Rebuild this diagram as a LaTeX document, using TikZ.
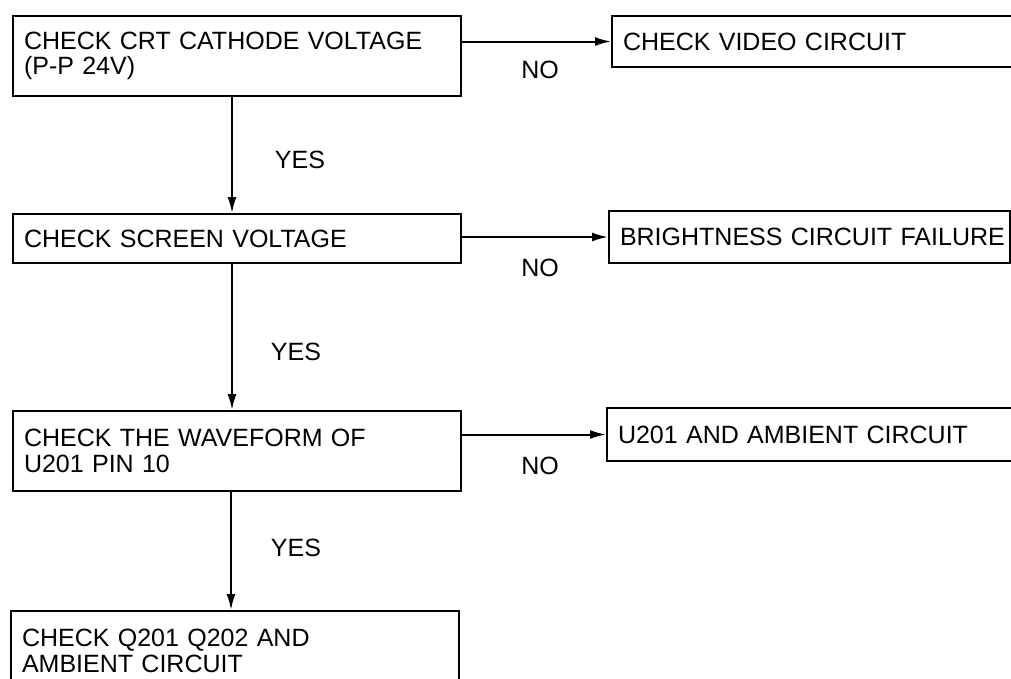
\documentclass[tikz,border=0pt]{standalone}
\usepackage{fontspec}
\setmainfont{Liberation Sans}
\usetikzlibrary{arrows.meta}
\begin{document}
\begin{tikzpicture}[x=1pt,y=-1pt,
  every node/.style={font=\fontsize{25}{25.5}\selectfont},
  stepbox/.style={draw,line width=2pt,anchor=north west,align=left,inner xsep=11pt,inner ysep=0pt},
  leftbox/.style={stepbox,minimum width=448pt,text width=426pt},
  flow/.style={line width=2pt,-{Latex[length=16pt,width=9pt]}},
  lbl/.style={inner sep=0pt}]
\useasboundingbox (0,0) rectangle (1011,678);
\clip (0,0) rectangle (1011,678);
\fill[white] (0,0) rectangle (1011,678);
\node[leftbox,minimum height=80pt] (b1) at (12,15) {CHECK CRT CATHODE VOLTAGE\\(P-P 24V)};
\node[stepbox,minimum width=420pt,minimum height=51pt,text width=398pt] (r1) at (611,15) {\mbox{CHECK VIDEO CIRCUIT}};
\node[leftbox,minimum height=49pt] (b2) at (12,213) {CHECK SCREEN VOLTAGE};
\node[stepbox,minimum width=401pt,minimum height=52pt,text width=379pt] (r2) at (608,210) {\mbox{BRIGHTNESS CIRCUIT FAILURE}};
\node[leftbox,minimum height=80pt] (b3) at (12,410) {CHECK THE WAVEFORM OF\\U201 PIN 10};
\node[stepbox,minimum width=420pt,minimum height=53pt,text width=398pt] (r3) at (606,407) {\mbox{U201 AND AMBIENT CIRCUIT}};
\node[leftbox,minimum height=80pt] (b4) at (10,610) {CHECK Q201 Q202 AND\\AMBIENT CIRCUIT};
\draw[flow] (r1.west -| b1.east) -- (r1.west);
\draw[flow] (r2.west -| b2.east) -- (r2.west);
\draw[flow] (r3.west -| b3.east) -- (r3.west);
\draw[flow] ([xshift=-5pt]b1.south) -- ([xshift=-5pt]b2.north);
\draw[flow] ([xshift=-5pt]b2.south) -- ([xshift=-5pt]b3.north);
\draw[flow] ([xshift=-6pt]b3.south) -- ([xshift=-4pt]b4.north);
\node[lbl] (n1) at (540,70) {NO};
\node[lbl] (n2) at (540,268) {NO};
\node[lbl] (n3) at (540,466) {NO};
\node[lbl] (y1) at (300,160) {YES};
\node[lbl] (y2) at (296,352) {YES};
\node[lbl] (y3) at (296,548) {YES};
\end{tikzpicture}
\end{document}
